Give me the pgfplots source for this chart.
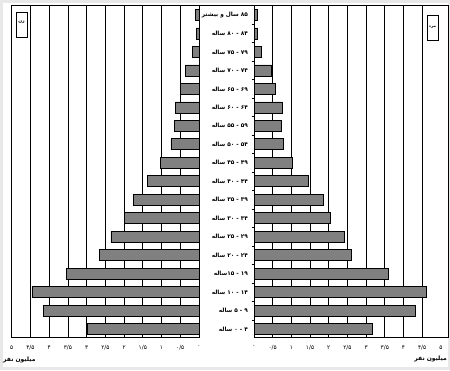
\documentclass[border=0pt]{standalone}
\usepackage{pgfplots}
\pgfplotsset{compat=1.18}
\usepackage{fontspec}
\setmainfont{DejaVu Sans}
\TeXXeTstate=1
\newfontfamily\fa[Script=Arabic]{DejaVu Sans}
\newcommand{\tk}{\fa\fontsize{5.8}{6.5}\selectfont}
\pgfplotstableread{
idx women men
0 2.98 3.17
1 4.15 4.31
2 4.46 4.62
3 3.53 3.59
4 2.66 2.60
5 2.35 2.41
6 1.99 2.04
7 1.75 1.85
8 1.38 1.46
9 1.02 1.02
10 0.75 0.78
11 0.66 0.73
12 0.64 0.76
13 0.50 0.57
14 0.37 0.47
15 0.17 0.19
16 0.07 0.09
17 0.09 0.10
}\pyr
\pgfplotsset{
  pyr/.style={
    scale only axis, height=332pt,
    ymin=-0.43, ymax=17.54,
    xbar, bar width=11pt,
    xmajorgrids, grid style={black, line width=0.7pt},
    axis line style={black, line width=0.9pt},
    major tick length=0pt,
    minor ytick={0.5,1.5,...,16.5},
    minor tick length=2.5pt,
    tick align=outside,
    tick style={black, line width=0.6pt},
    xticklabel style={font=\tk, yshift=-5pt},
    xtick pos=bottom,
  },
  barst/.style={fill=black!50, draw=black, line width=0.7pt},
}
\begin{document}
\begin{tikzpicture}[x=1pt,y=1pt]
\fill[black!9] (0,0) rectangle (450,370);
\fill[white] (3,3) rectangle (448,367);
\begin{axis}[pyr, name=L, at={(11.7pt,33pt)}, anchor=south west,
  width=187.3pt, x dir=reverse, xmin=0, xmax=5,
  xtick={0,0.5,...,5},
  xticklabels={۰,۰/۵,۱,۱/۵,۲,۲/۵,۳,۳/۵,۴,۴/۵,۵},
  ytick=\empty, ytick pos=left]
\addplot[barst] table[x=women, y=idx] {\pyr};
\end{axis}
\begin{axis}[pyr, name=R, at={(254pt,33pt)}, anchor=south west,
  width=194pt, xmin=0, xmax=5.19,
  xtick={0,0.5,...,4.5},
  xticklabels={۰,۰/۵,۱,۱/۵,۲,۲/۵,۳,۳/۵,۴,۴/۵},
  extra x ticks={5}, extra x tick labels={۵},
  extra x tick style={grid=none},
  ytick={0,...,17}, ytick pos=left,
  yticklabel style={font=\fa\bfseries\fontsize{5.8}{6.5}\selectfont, anchor=east, xshift=-2.5pt},
  yticklabels={
    {\beginR ۴ - ۰ ساله\endR},
    {\beginR ۹ - ۵ ساله\endR},
    {\beginR ۱۴ - ۱۰ ساله\endR},
    {\beginR ۱۹ - ۱۵ساله\endR},
    {\beginR ۲۴ - ۲۰ ساله\endR},
    {\beginR ۲۹ - ۲۵ ساله\endR},
    {\beginR ۳۴ - ۳۰ ساله\endR},
    {\beginR ۳۹ - ۳۵ ساله\endR},
    {\beginR ۴۴ - ۴۰ ساله\endR},
    {\beginR ۴۹ - ۴۵ ساله\endR},
    {\beginR ۵۴ - ۵۰ ساله\endR},
    {\beginR ۵۹ - ۵۵ ساله\endR},
    {\beginR ۶۴ - ۶۰ ساله\endR},
    {\beginR ۶۹ - ۶۵ ساله\endR},
    {\beginR ۷۴ - ۷۰ ساله\endR},
    {\beginR ۷۹ - ۷۵ ساله\endR},
    {\beginR ۸۴ - ۸۰ ساله\endR},
    {\beginR ۸۵ سال و بیشتر\endR}}]
\addplot[barst] table[x=men, y=idx] {\pyr};
\end{axis}
\draw[black, line width=0.9pt] (199,365) -- (254,365);
\draw[black, line width=0.6pt] (16,333) rectangle (27,358);
\node[font=\fa\bfseries\fontsize{4.5}{5}\selectfont, inner sep=0pt] at (21.5,348) {\beginR زن\endR};
\draw[black, line width=0.6pt] (427,330) rectangle (438,355);
\node[font=\fa\bfseries\fontsize{4}{5}\selectfont, inner sep=0pt] at (432.5,343) {\beginR مرد\endR};
\node[font=\fa\bfseries\fontsize{6}{7}\selectfont, anchor=west, inner sep=0pt] at (3,10) {\beginR میلیون نفر\endR};
\node[font=\fa\bfseries\fontsize{6}{7}\selectfont, anchor=east, inner sep=0pt] at (447,11) {\beginR میلیون نفر\endR};
\end{tikzpicture}
\end{document}
